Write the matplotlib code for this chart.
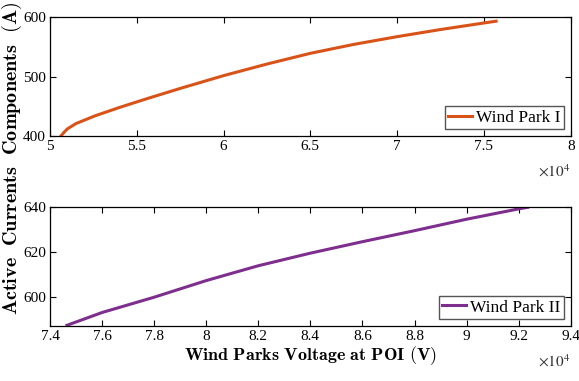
import numpy as np
import matplotlib
matplotlib.use('Agg')
import matplotlib.pyplot as plt
from matplotlib.ticker import FuncFormatter

plt.rcParams['font.family'] = 'Liberation Serif'
plt.rcParams['mathtext.fontset'] = 'stix'

# Wind Park I: voltage at POI (V) vs active current (A)
v1 = [50630, 50800, 51000, 51500, 52600, 54000, 55500, 57500, 60000, 62500,
      65000, 67500, 70000, 72500, 75000, 75700]
i1 = [400, 406, 412, 421, 434, 448, 462, 480, 501.5, 521,
      539, 554, 567, 579, 590, 593]

# Wind Park II
v2 = [74650, 76000, 78000, 80000, 82000, 84000, 86000, 88000, 90000, 92000, 92350]
i2 = [587.5, 593.2, 600.0, 607.4, 614.0, 619.6, 624.7, 629.6, 634.7, 639.3, 640.0]

fig = plt.figure(figsize=(5.79, 3.81), dpi=100)
ax1 = fig.add_axes([0.0864, 0.643, 0.8993, 0.3123])
ax2 = fig.add_axes([0.0864, 0.1444, 0.8993, 0.3115])

fmt = FuncFormatter(lambda x, pos: f'{x/1e4:g}')

ax1.plot(v1, i1, color='#D95319', lw=2.2, label='Wind Park I')
ax1.set_xlim(50000, 80000)
ax1.set_ylim(400, 600)
ax1.set_xticks(np.arange(50000, 80001, 5000))
ax1.set_yticks([400, 500, 600])

ax2.plot(v2, i2, color='#7E2F8E', lw=2.2, label='Wind Park II')
ax2.set_xlim(74000, 94000)
ax2.set_ylim(587.2, 640)
ax2.set_xticks(np.arange(74000, 94001, 2000))
ax2.set_yticks([600, 620, 640])

for ax in (ax1, ax2):
    ax.xaxis.set_major_formatter(fmt)
    ax.tick_params(direction='in', top=True, right=True, labelsize=11, length=4, pad=3)
    for s in ax.spines.values():
        s.set_linewidth(0.9)
    leg = ax.legend(loc='lower right', fontsize=12.5, handlelength=1.4, handletextpad=0.2,
                    borderpad=0.2, borderaxespad=0.4, fancybox=False, framealpha=1)
    leg.get_frame().set_edgecolor('#555555')
    ax.text(1.0, -0.3, r'$\times10^{4}$', transform=ax.transAxes, ha='right', va='center',
            fontsize=11, color='#333333')

ax2.set_xlabel(r'$\mathbf{Wind\ Parks\ Voltage\ at\ POI\ (V)}$', math_fontfamily='cm',
               fontsize=13, labelpad=1)
fig.text(0.021, 0.585, r'$\mathbf{Active\ \ Currents\ \ Components\ \ (A)}$', math_fontfamily='cm',
         fontsize=14.5, rotation=90, ha='center', va='center')

fig.savefig('out.png', dpi=100)
